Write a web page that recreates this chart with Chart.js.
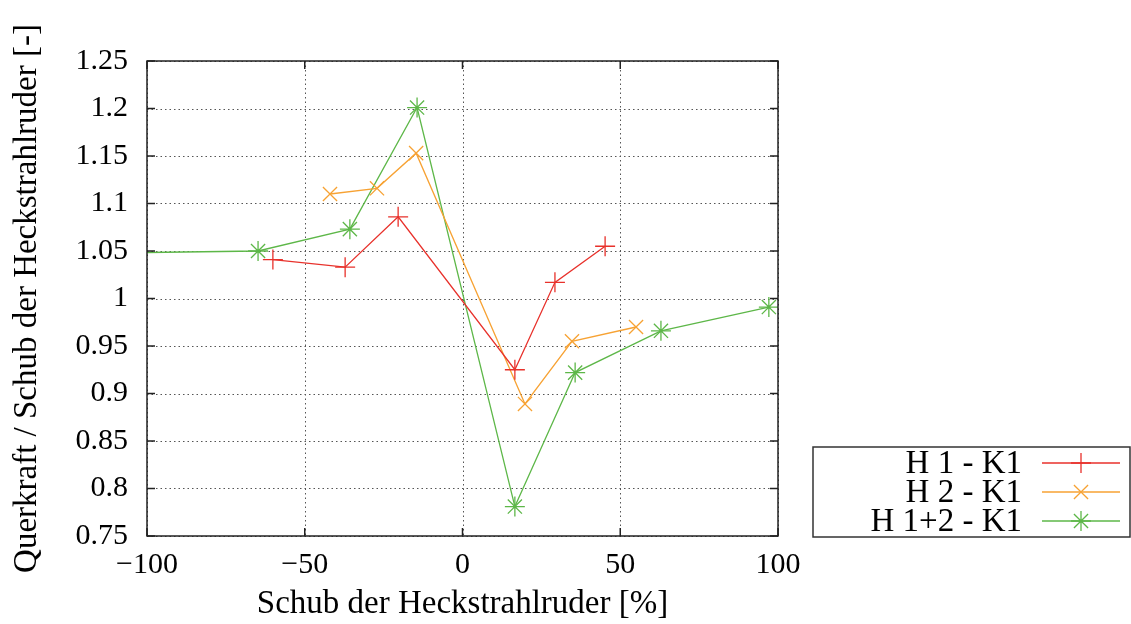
<!DOCTYPE html>
<html lang="de">
<head>
<meta charset="UTF-8">
<title>Querkraft / Schub</title>
<script src="https://cdn.jsdelivr.net/npm/chart.js"></script>
<style>
  html, body { margin: 0; padding: 0; background: #fff; }
  #wrap { width: 1131px; height: 624px; }
</style>
</head>
<body>
<div id="wrap"><canvas id="chart" width="1131" height="624"></canvas></div>
<script>
// Daten
const labels = ['H 1 - K1', 'H 2 - K1', 'H 1+2 - K1'];
const xH1  = [-60.1, -37.2, -20.4, 16.6, 29.3, 45.2];
const yH1  = [1.041, 1.033, 1.086, 0.925, 1.017, 1.055];
const xH2  = [-42.0, -27.1, -14.7, 19.8, 34.7, 55.0];
const yH2  = [1.110, 1.116, 1.153, 0.889, 0.955, 0.970];
const xH12 = [-110, -64.8, -35.7, -14.4, 16.6, 35.7, 62.9, 97.1];
const yH12 = [1.048, 1.050, 1.073, 1.201, 0.781, 0.922, 0.966, 0.991];
const xTicks = [-100, -50, 0, 50, 100];
const yTicks = [0.75, 0.8, 0.85, 0.9, 0.95, 1, 1.05, 1.1, 1.15, 1.2, 1.25];

const FONT = "'Liberation Serif', 'DejaVu Serif', serif";
const TICK_SIZE = 30;
const TITLE_SIZE = 33;
const colors = ['#e8312b', '#f7a233', '#5db748'];
const styles = ['cross', 'crossRot', 'star'];

function pts(xs, ys) { return xs.map((x, i) => ({ x: x, y: ys[i] })); }

const sets = [pts(xH1, yH1), pts(xH2, yH2), pts(xH12, yH12)].map((d, i) => ({
  label: labels[i],
  data: d,
  borderColor: colors[i],
  backgroundColor: colors[i],
  borderWidth: 1.3,
  pointStyle: styles[i],
  pointRadius: 10,
  pointBorderWidth: 1.3,
  pointHoverRadius: 10,
  tension: 0
}));

// gepunktetes Gitter
const gridPlugin = {
  id: 'dotgrid',
  beforeDatasetsDraw(chart) {
    const { ctx, chartArea: a, scales } = chart;
    ctx.save();
    ctx.strokeStyle = '#555';
    ctx.lineWidth = 1;
    ctx.setLineDash([1.5, 3]);
    ctx.beginPath();
    xTicks.forEach(v => {
      const px = Math.round(scales.x.getPixelForValue(v)) + 0.5;
      ctx.moveTo(px, a.top); ctx.lineTo(px, a.bottom);
    });
    yTicks.forEach(v => {
      const py = Math.round(scales.y.getPixelForValue(v)) + 0.5;
      ctx.moveTo(a.left, py); ctx.lineTo(a.right, py);
    });
    ctx.stroke();
    ctx.restore();
  }
};

// Rahmen, Ticks nach innen und Legende wie bei gnuplot
const framePlugin = {
  id: 'frame',
  afterDraw(chart) {
    const { ctx, chartArea: a, scales } = chart;
    ctx.save();
    ctx.strokeStyle = '#222';
    ctx.lineWidth = 1.5;
    ctx.beginPath();
    xTicks.forEach(v => {
      const px = scales.x.getPixelForValue(v);
      ctx.moveTo(px, a.bottom); ctx.lineTo(px, a.bottom - 8);
      ctx.moveTo(px, a.top); ctx.lineTo(px, a.top + 8);
    });
    yTicks.forEach(v => {
      const py = scales.y.getPixelForValue(v);
      ctx.moveTo(a.left, py); ctx.lineTo(a.left + 8, py);
      ctx.moveTo(a.right, py); ctx.lineTo(a.right - 8, py);
    });
    ctx.stroke();
    ctx.strokeRect(a.left, a.top, a.right - a.left, a.bottom - a.top);

    // Legende
    const bx = 813, by = 447, bw = 317, bh = 90;
    ctx.strokeStyle = '#333';
    ctx.lineWidth = 1.5;
    ctx.strokeRect(bx, by, bw, bh);
    ctx.font = TITLE_SIZE + 'px ' + FONT;
    ctx.textAlign = 'right';
    ctx.textBaseline = 'middle';
    chart.data.datasets.forEach((ds, i) => {
      const cy = by + 16 + i * 29;
      ctx.fillStyle = '#000';
      ctx.fillText(ds.label, 1022, cy + 1);
      ctx.strokeStyle = ds.borderColor;
      ctx.fillStyle = ds.borderColor;
      ctx.lineWidth = ds.borderWidth;
      ctx.beginPath();
      ctx.moveTo(1042, cy); ctx.lineTo(1120, cy);
      ctx.stroke();
      Chart.helpers.drawPoint(ctx, { pointStyle: ds.pointStyle, radius: 10, rotation: 0, borderWidth: ds.pointBorderWidth }, 1081, cy);
    });
    ctx.restore();
  }
};

new Chart(document.getElementById('chart'), {
  type: 'line',
  data: { datasets: sets },
  options: {
    responsive: false,
    animation: false,
    layout: { padding: { top: 61, right: 353, left: 0, bottom: 0 } },
    plugins: { legend: { display: false }, tooltip: { enabled: false } },
    scales: {
      x: {
        type: 'linear',
        min: -100, max: 100,
        afterBuildTicks: s => { s.ticks = xTicks.map(v => ({ value: v })); },
        afterFit: s => { s.height = 88; },
        grid: { display: false, drawTicks: false },
        border: { display: false },
        ticks: {
          padding: 11,
          color: '#000',
          font: { family: FONT, size: TICK_SIZE },
          maxRotation: 0,
          callback: v => (v < 0 ? '\u2212' + Math.abs(v) : String(v))
        },
        title: {
          display: true,
          text: 'Schub der Heckstrahlruder [%]',
          color: '#000',
          font: { family: FONT, size: TITLE_SIZE },
          padding: { top: 0, bottom: 0 }
        }
      },
      y: {
        type: 'linear',
        min: 0.75, max: 1.25,
        afterBuildTicks: s => { s.ticks = yTicks.map(v => ({ value: v })); },
        afterFit: s => { s.width = 147; },
        grid: { display: false, drawTicks: false },
        border: { display: false },
        ticks: {
          padding: 19,
          color: '#000',
          font: { family: FONT, size: TICK_SIZE },
          callback: v => String(Math.round(v * 100) / 100)
        },
        title: {
          display: true,
          text: 'Querkraft / Schub der Heckstrahlruder [-]',
          color: '#000',
          font: { family: FONT, size: TITLE_SIZE },
          padding: { top: 8, bottom: 0 }
        }
      }
    }
  },
  plugins: [gridPlugin, framePlugin]
});
</script>
</body>
</html>
